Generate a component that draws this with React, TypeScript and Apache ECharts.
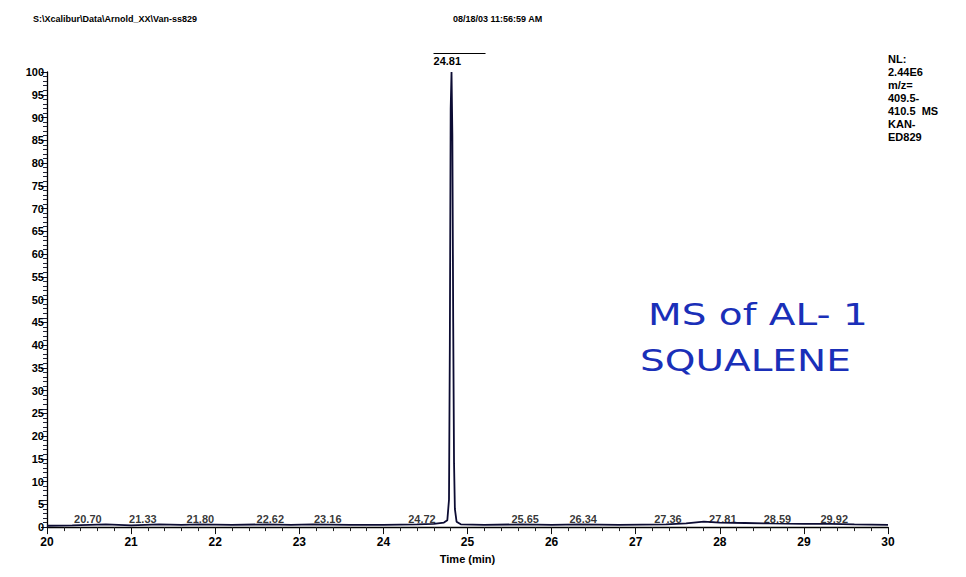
import React, { useEffect, useRef } from "react";
import * as echarts from "echarts";

const filePath = "S:\\Xcalibur\\Data\\Arnold_XX\\Van-ss829";
const runDate = "08/18/03 11:56:59 AM";
const infoLines = ["NL:", "2.44E6", "m/z=", "409.5-", "410.5  MS", "KAN-", "ED829"];
const noteLines = ["MS of AL- 1", "SQUALENE"];

// chromatogram trace (time in min, relative abundance %)
const traceTime = [20.0, 20.3, 20.7, 21.0, 21.33, 21.6, 21.8, 22.2, 22.62, 22.9, 23.16, 23.6, 24.0, 24.4, 24.6, 24.72, 24.76, 24.78, 24.79, 24.8, 24.81, 24.82, 24.83, 24.84, 24.85, 24.87, 24.92, 25.2, 25.65, 26.0, 26.34, 26.8, 27.36, 27.6, 27.81, 28.0, 28.3, 28.59, 29.0, 29.32, 29.6, 30.0];
const traceAbund = [0.3, 0.4, 0.6, 0.4, 0.6, 0.5, 0.6, 0.5, 0.6, 0.5, 0.6, 0.5, 0.5, 0.6, 0.7, 1.0, 1.5, 6, 40, 92, 100, 86, 45, 14, 4, 1.2, 0.6, 0.5, 0.6, 0.5, 0.6, 0.5, 0.6, 0.8, 1.2, 1.0, 0.9, 0.8, 0.7, 0.7, 0.6, 0.5];

// labelled peaks
const peakLabels = ["20.70", "21.33", "21.80", "22.62", "23.16", "24.72", "25.65", "26.34", "27.36", "27.81", "28.59", "29.92"];
const peakTimes = [20.7, 21.33, 21.8, 22.62, 23.16, 24.72, 25.65, 26.34, 27.36, 27.81, 28.59, 29.92];
const labelNudgePx = [-18, -16, 2, 3, 15, -22, 3, 3, 2, 19, 8, -47];
const basePeakTime = 24.81;
const basePeakLabel = "24.81";

export default function App() {
  const ref = useRef<HTMLDivElement>(null);
  useEffect(() => {
    if (!ref.current) return;
    const chart = echarts.init(ref.current, undefined, { renderer: "svg" });
    const font = "Liberation Sans, Arial, sans-serif";
    const txt = { fontFamily: font, fontWeight: "bold" as const, fontSize: 12, color: "#000" };
    const noteStyle = { fontFamily: "DejaVu Sans, sans-serif", fontSize: 30, fill: "#1a2fb8" };
    chart.setOption({
      animation: false,
      backgroundColor: "#ffffff",
      grid: { left: 39, right: 70, top: 64, bottom: 31 },
      xAxis: {
        type: "value",
        min: 20,
        max: 30,
        interval: 1,
        axisLine: { lineStyle: { color: "#000", width: 1.3 } },
        axisTick: { show: true, length: 7, lineStyle: { color: "#111" } },
        minorTick: { show: true, splitNumber: 5, length: 4, lineStyle: { color: "#222" } },
        axisLabel: { ...txt, fontSize: 12, margin: 9 },
        splitLine: { show: false },
        name: "Time (min)",
        nameLocation: "middle",
        nameGap: 25,
        nameTextStyle: { ...txt, fontSize: 11 },
      },
      yAxis: {
        type: "value",
        min: 0,
        max: 100,
        interval: 5,
        axisLine: { show: true, lineStyle: { color: "#000", width: 1.3 } },
        axisTick: { show: true, length: 6, lineStyle: { color: "#112" } },
        minorTick: { show: true, splitNumber: 5, length: 4, lineStyle: { color: "#223" } },
        axisLabel: { ...txt, fontSize: 11, margin: 3 },
        splitLine: { show: false },
      },
      series: [
        {
          type: "line",
          data: traceTime.map((t, i) => [t, traceAbund[i]]),
          showSymbol: false,
          lineStyle: { color: "#0c0c33", width: 1.8 },
          markPoint: {
            symbol: "rect",
            symbolSize: 0,
            data: [
              {
                coord: [basePeakTime, 100],
                label: {
                  show: true,
                  position: "top",
                  distance: 5,
                  offset: [8, 0],
                  formatter: `{ln|}\n{t|${basePeakLabel}}`,
                  rich: {
                    ln: { backgroundColor: "#000", height: 1, width: 52 },
                    t: { ...txt, fontSize: 11, align: "left", width: 52, lineHeight: 13 },
                  },
                },
              },
            ],
          },
        },
        {
          type: "scatter",
          symbolSize: 0,
          data: peakTimes.map((t, i) => ({
            value: [t, 0.4],
            label: { offset: [labelNudgePx[i], 0], formatter: peakLabels[i], color: "#000" },
          })),
          label: { show: true, position: "top", distance: 1, ...txt, fontSize: 11 },
          silent: true,
        },
      ],
      graphic: [
        { type: "text", left: 25, top: 6, style: { text: filePath, ...txt, fill: "#000", fontSize: 9 } },
        { type: "text", left: 445, top: 6, style: { text: runDate, ...txt, fill: "#000", fontSize: 9 } },
        {
          type: "text",
          left: 880,
          top: 44,
          style: { text: infoLines.join("\n"), ...txt, fill: "#000", fontSize: 11, lineHeight: 13 },
        },
        {
          type: "text",
          x: 640,
          y: 292,
          scaleX: 1.3,
          style: { text: noteLines[0], ...noteStyle },
        },
        {
          type: "text",
          x: 632,
          y: 338,
          scaleX: 1.3,
          style: { text: noteLines[1], ...noteStyle },
        },
      ],
    });
    return () => chart.dispose();
  }, []);
  return <div ref={ref} style={{ width: 950, height: 561 }} />;
}
